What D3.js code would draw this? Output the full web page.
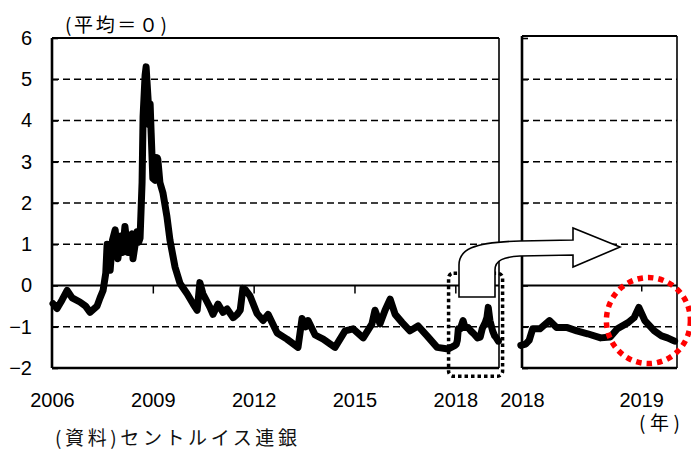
<!DOCTYPE html>
<html>
<head>
<meta charset="utf-8">
<script src="https://cdn.jsdelivr.net/npm/d3@7"></script>
<style>
  body { margin: 0; background: #fff; }
  text { font-family: "Liberation Sans", Arial, sans-serif; }
  .jp { font-family: "Noto Sans CJK JP", sans-serif; }
</style>
</head>
<body>
<div class="chart"></div>
<script>
// St. Louis Fed financial stress index, weekly-ish
var dates = [
  2006.03, 2006.15, 2006.3, 2006.45, 2006.6, 2006.83, 2007.0, 2007.13, 2007.34, 2007.43,
  2007.52, 2007.6, 2007.64, 2007.73, 2007.8, 2007.88, 2007.96, 2008.05, 2008.1, 2008.17,
  2008.26, 2008.32, 2008.38, 2008.41, 2008.53, 2008.58, 2008.62, 2008.68, 2008.71, 2008.77,
  2008.8, 2008.86, 2008.89, 2008.92, 2008.95, 2009.0, 2009.07, 2009.13, 2009.15, 2009.21,
  2009.3, 2009.42, 2009.51, 2009.66, 2009.81, 2010.02, 2010.2, 2010.32, 2010.4, 2010.49,
  2010.7, 2010.79, 2010.94, 2011.09, 2011.21, 2011.39, 2011.51, 2011.6, 2011.68, 2011.75,
  2011.89, 2012.1, 2012.28, 2012.43, 2012.7, 2012.99, 2013.32, 2013.44, 2013.55, 2013.62,
  2013.83, 2014.07, 2014.42, 2014.72, 2014.96, 2015.26, 2015.52, 2015.61, 2015.76, 2015.91,
  2016.06, 2016.21, 2016.42, 2016.65, 2016.89, 2017.16, 2017.46, 2017.79, 2017.99,
  2018.03, 2018.06, 2018.09, 2018.15, 2018.23, 2018.29, 2018.38, 2018.46, 2018.55, 2018.66,
  2018.74, 2018.8, 2018.89, 2018.94, 2018.98, 2019.03, 2019.11, 2019.17, 2019.22, 2019.28
];
var stress = [
  -0.44, -0.56, -0.35, -0.12, -0.3, -0.4, -0.5, -0.65, -0.5, -0.3,
  -0.12, 0.3, 1.0, 0.37, 1.1, 1.35, 0.65, 1.2, 0.8, 1.43,
  0.8, 1.1, 1.25, 0.65, 1.3, 1.05, 1.15, 2.5, 4.1, 5.1,
  5.3, 4.5, 3.9, 4.4, 3.7, 2.6, 2.55, 3.1, 3.05, 2.5,
  2.25, 1.67, 1.1, 0.45, 0.05, -0.2, -0.45, -0.6, 0.07, -0.2,
  -0.53, -0.7, -0.45, -0.65, -0.57, -0.78, -0.7, -0.6, -0.07, -0.1,
  -0.25, -0.68, -0.85, -0.7, -1.15, -1.3, -1.5, -0.8, -1.0, -0.85,
  -1.2, -1.3, -1.5, -1.1, -1.05, -1.27, -0.93, -0.6, -0.93, -0.6,
  -0.33, -0.7, -0.9, -1.1, -0.98, -1.22, -1.5, -1.54, -1.45,
  -1.42, -1.33, -1.05, -1.05, -0.85, -1.02, -1.02, -1.1, -1.17, -1.27,
  -1.25, -1.05, -0.9, -0.78, -0.53, -0.85, -1.1, -1.22, -1.27, -1.35
];

var yTicks = [-2, -1, 0, 1, 2, 3, 4, 5, 6];
var gridTicks = [-1, 1, 2, 3, 4, 5];
var leftYears = [2006, 2009, 2012, 2015, 2018];
var rightYears = [2018, 2019];

var svgWidth = 691;
var svgHeight = 450;

var data = dates.map((t, i) => ({ t: t, v: stress[i] }));

var svg = d3.select(".chart")
  .append("svg")
  .attr("width", svgWidth)
  .attr("height", svgHeight);

var y = d3.scaleLinear().domain([-2, 6]).range([368, 38]);

// two panels: the whole history and a zoom of 2018-
var panels = [
  { x: d3.scaleLinear().domain([2006, 2019.3]).range([52, 499]), rows: data, years: leftYears, labels: true, top: 38 },
  { x: d3.scaleLinear().domain([2018, 2019.3]).range([522, 677]), rows: data.filter(d => d.t >= 2017.99), years: rightYears, labels: false, top: 36 }
];

panels.forEach(function(p) {
  var x0 = p.x.range()[0], x1 = p.x.range()[1];
  var g = svg.append("g");

  // dashed grid
  g.selectAll("line.grid")
    .data(gridTicks)
    .enter()
    .append("line")
    .attr("x1", x0).attr("x2", x1)
    .attr("y1", d => y(d)).attr("y2", d => y(d))
    .attr("stroke", "#000")
    .attr("stroke-width", 1.6)
    .attr("stroke-dasharray", "7,4");

  // frame
  g.append("line").attr("x1", x0).attr("x2", x1).attr("y1", p.top).attr("y2", p.top)
    .attr("stroke", "#000").attr("stroke-width", 2.2);
  g.append("line").attr("x1", x1).attr("x2", x1).attr("y1", p.top).attr("y2", y(-2))
    .attr("stroke", "#000").attr("stroke-width", 1.6);
  g.append("line").attr("x1", x0).attr("x2", x0).attr("y1", p.top).attr("y2", y(-2))
    .attr("stroke", "#000").attr("stroke-width", 2.6);
  g.append("line").attr("x1", x0).attr("x2", x1).attr("y1", y(-2)).attr("y2", y(-2))
    .attr("stroke", "#000").attr("stroke-width", 2.6);
  g.append("line").attr("x1", x0).attr("x2", x1).attr("y1", y(0)).attr("y2", y(0))
    .attr("stroke", "#000").attr("stroke-width", 2);

  // y axis, ticks pointing inward
  var leftAxis = d3.axisLeft(y).tickValues(yTicks).tickSizeInner(-6).tickSizeOuter(0).tickPadding(20)
    .tickFormat(d => d < 0 ? "\u2212" + Math.abs(d) : d);
  var ya = g.append("g")
    .attr("transform", `translate(${x0},0)`)
    .call(leftAxis);
  ya.select(".domain").remove();
  ya.selectAll(".tick line").attr("stroke-width", 1.6);
  ya.selectAll("text").attr("font-size", 20).attr("fill", "#000")
    .style("display", p.labels ? null : "none");

  // year ticks hang off the zero line
  var tickAxis = d3.axisBottom(p.x).tickValues(p.years.slice(1)).tickSize(p.labels ? 8 : 6).tickFormat("");
  var ta = g.append("g")
    .attr("transform", `translate(0,${y(0)})`)
    .call(tickAxis);
  ta.select(".domain").remove();
  ta.selectAll(".tick line").attr("stroke-width", 1.5);

  // year labels under the panel
  var labelAxis = d3.axisBottom(p.x).tickValues(p.years).tickSize(0).tickPadding(25).tickFormat(d3.format("d"));
  var la = g.append("g")
    .attr("transform", `translate(0,${y(-2)})`)
    .call(labelAxis);
  la.select(".domain").remove();
  la.selectAll("text").attr("font-size", 20).attr("fill", "#000");

  // the series
  var line = d3.line()
    .x(d => p.x(d.t))
    .y(d => y(d.v));
  g.append("path")
    .datum(p.rows)
    .attr("d", line)
    .attr("fill", "none")
    .attr("stroke", "#000")
    .attr("stroke-width", 7)
    .attr("stroke-linejoin", "round")
    .attr("stroke-linecap", "round");
});

var xL = panels[0].x, xR = panels[1].x;

// dotted box round the 2018- stretch
svg.append("rect")
  .attr("x", xL(2017.8))
  .attr("y", y(0.3))
  .attr("width", 54)
  .attr("height", y(-2.2) - y(0.3))
  .attr("rx", 5)
  .attr("fill", "none")
  .attr("stroke", "#000")
  .attr("stroke-width", 3.5)
  .attr("stroke-dasharray", "3.5,3");

// the bent arrow
svg.append("path")
  .attr("d", "M459,297 V265 C459,250 472,242 520,241 L573,240 L573,228 L620,247 L573,267 L573,255 L520,256 C504,257 495,260 495,270 V297 Z")
  .attr("fill", "#fff")
  .attr("stroke", "#000")
  .attr("stroke-width", 1.6);

// red dotted circle around the recent bump
svg.append("ellipse")
  .attr("cx", xR(2019.06))
  .attr("cy", y(-0.85))
  .attr("rx", 42)
  .attr("ry", 43)
  .attr("fill", "none")
  .attr("stroke", "#ff0000")
  .attr("stroke-width", 5.5)
  .attr("stroke-dasharray", "5.5,5");

// texts
svg.append("text")
  .attr("class", "jp")
  .attr("x", 65)
  .attr("y", 32)
  .attr("font-size", 19)
  .attr("textLength", 102)
  .attr("lengthAdjust", "spacing")
  .text("(平均＝０)");

svg.append("text")
  .attr("class", "jp")
  .attr("x", 639)
  .attr("y", 430)
  .attr("font-size", 19)
  .attr("textLength", 41)
  .attr("lengthAdjust", "spacing")
  .text("(年)");

svg.append("text")
  .attr("class", "jp")
  .attr("x", 55)
  .attr("y", 445)
  .attr("font-size", 19)
  .attr("textLength", 242)
  .attr("lengthAdjust", "spacing")
  .attr("fill", "#111")
  .text("(資料)セントルイス連銀");
</script>
</body>
</html>
